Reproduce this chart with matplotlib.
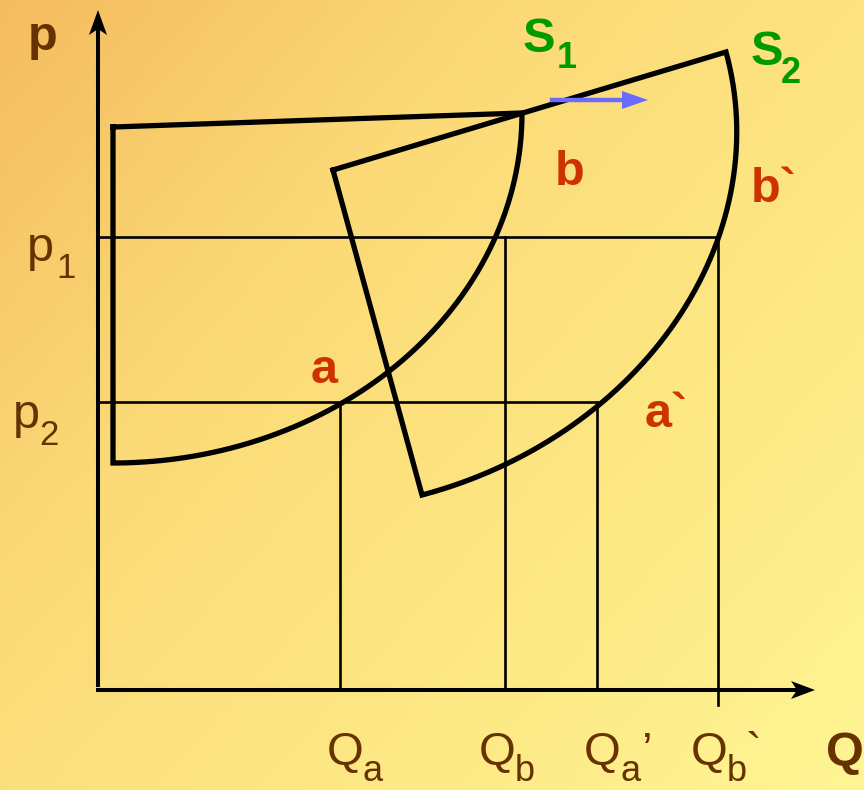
import numpy as np
import matplotlib
matplotlib.use("Agg")
import matplotlib.pyplot as plt
from matplotlib.colors import LinearSegmentedColormap

brown = '#663300'
red = '#CC3300'
green = '#009900'
blue = '#6B6BFF'

W, H = 864, 790

# diagram geometry (pixel units, y down)
origin = (98, 690)
y_axis_top = 10
x_axis_right = 815

# supply curves as quarter-ellipse "fans": centre, two half-axis vectors, corner point
s1_center = (113, 113)
s1_u = (409, 0)
s1_v = (0, 350)
s1_corner = (113, 127)

s2_center = (329, 157)
s2_u = (397, -105)
s2_v = (93, 338)
s2_corner = (333, 170)

# price levels and quantities
p_names = ['p1', 'p2']
p_levels = [237, 402]
p_ends = [718, 597]

q_names = ['Qa', 'Qb', "Qa'", 'Qb`']
q_values = [340, 505, 597, 718]
q_tops = [402, 237, 402, 237]
q_bottoms = [690, 690, 690, 705]

shift_arrow = [(552, 100), (648, 100)]


def fan(center, u, v, corner, n=200):
    t = np.linspace(0, np.pi / 2, n)
    cx, cy = center
    xs = cx + np.cos(t) * u[0] + np.sin(t) * v[0]
    ys = cy + np.cos(t) * u[1] + np.sin(t) * v[1]
    xs = np.concatenate([[corner[0]], xs, [corner[0]]])
    ys = np.concatenate([[corner[1]], ys, [corner[1]]])
    return xs, ys


def head(ax, tip, direction, length, half, notch, color):
    d = np.array(direction, float)
    d = d / np.linalg.norm(d)
    n = np.array([-d[1], d[0]])
    tip = np.array(tip, float)
    base = tip - d * length
    pts = [tip, base + n * half, tip - d * (length - notch), base - n * half]
    pts = np.array(pts)
    ax.fill(pts[:, 0], pts[:, 1], color=color, lw=0, zorder=5)


fig = plt.figure(figsize=(W / 100, H / 100), dpi=100)
ax = fig.add_axes([0, 0, 1, 1])
ax.set_xlim(0, W)
ax.set_ylim(H, 0)
ax.axis('off')

# background gradient
cmap = LinearSegmentedColormap.from_list('bg', ['#F5BC5E', '#FBDA77', '#FDE884', '#FFF594'])
gx, gy = np.meshgrid(np.linspace(0, 1, 300), np.linspace(0, 1, 300))
grad = gx * 0.55 + gy * 0.45
ax.imshow(grad, cmap=cmap, extent=[0, W, H, 0], aspect='auto', zorder=0)

# guide lines
for lvl, xe in zip(p_levels, p_ends):
    ax.plot([origin[0], xe], [lvl, lvl], color='black', lw=1.9, zorder=2)
for q, top, bot in zip(q_values, q_tops, q_bottoms):
    ax.plot([q, q], [top, bot], color='black', lw=1.9, zorder=2)

# axes
ax.plot([origin[0], origin[0]], [685, y_axis_top + 10], color='black', lw=2.9, zorder=4)
ax.plot([origin[0], x_axis_right - 10], [origin[1], origin[1]], color='black', lw=2.9, zorder=4)
head(ax, (origin[0], y_axis_top), (0, -1), 25, 9, 6, 'black')
head(ax, (x_axis_right, origin[1]), (1, 0), 24, 9, 6, 'black')

# supply fans
for c, u, v, k in [(s1_center, s1_u, s1_v, s1_corner), (s2_center, s2_u, s2_v, s2_corner)]:
    xs, ys = fan(c, u, v, k)
    ax.plot(xs, ys, color='black', lw=3.8, solid_joinstyle='miter', zorder=3)

# shift arrow
ax.plot([shift_arrow[0][0], shift_arrow[1][0] - 20], [shift_arrow[0][1]] * 2, color=blue, lw=3.2, zorder=4)
head(ax, shift_arrow[1], (1, 0), 26, 9, 0, blue)

fam = ['Liberation Sans', 'DejaVu Sans']

def txt(x, y, s, size, color, bold=False):
    ax.text(x, y, s, fontsize=size, color=color, ha='left', va='baseline',
            fontweight='bold' if bold else 'normal', family=fam, zorder=6)

# axis labels
txt(28, 50, 'p', 35, brown, True)
txt(826, 766, 'Q', 35, brown, True)

txt(27, 261, 'p', 35, brown)
txt(56, 278, '1', 25, brown)
txt(13, 428, 'p', 35, brown)
txt(39, 445, '2', 25, brown)

txt(523, 52, 'S', 35, green, True)
txt(557, 68, '1', 26, green, True)
txt(751, 65, 'S', 35, green, True)
txt(781, 83, '2', 26, green, True)

txt(555, 185, 'b', 35, red, True)
txt(751, 202, 'b`', 35, red, True)
txt(311, 383, 'a', 35, red, True)
txt(645, 427, 'a`', 35, red, True)

q_subs = ['a', 'b', 'a', 'b']
q_left = [327, 479, 584, 691]
for x0, sub in zip(q_left, q_subs):
    txt(x0, 765, 'Q', 34, brown)
    txt(x0 + 36, 781, sub, 26, brown)
txt(q_left[2] + 57, 765, '\u2019', 34, brown)
txt(q_left[3] + 54, 765, '`', 34, brown)

fig.savefig('out.png', dpi=100)
